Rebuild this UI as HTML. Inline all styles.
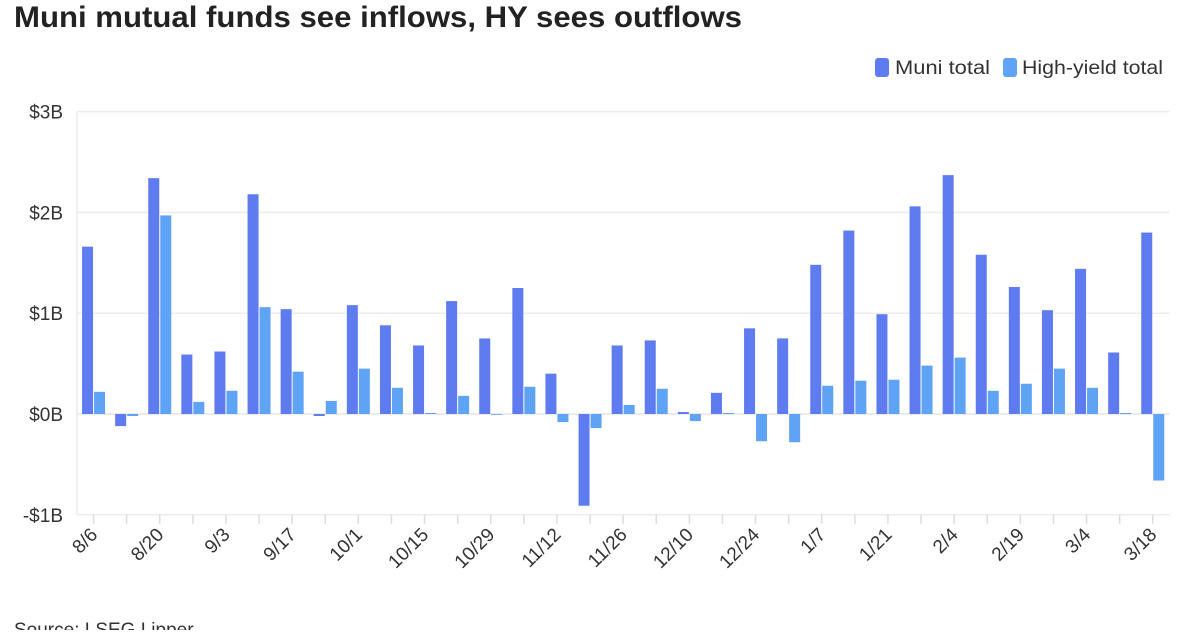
<!DOCTYPE html>
<html><head><meta charset="utf-8"><style>
body{margin:0;background:#fff;width:1200px;height:630px;overflow:hidden;font-family:"Liberation Sans",sans-serif}
</style></head><body>
<svg width="1200" height="630" xmlns="http://www.w3.org/2000/svg">
<text x="14" y="27" font-size="30" font-weight="bold" fill="#222" textLength="728" lengthAdjust="spacingAndGlyphs">Muni mutual funds see inflows, HY sees outflows</text>
<g>
<rect x="875" y="58" width="14" height="19" rx="3" fill="#5e7cef"/>
<text x="895" y="74" font-size="19" fill="#333" textLength="95" lengthAdjust="spacingAndGlyphs">Muni total</text>
<rect x="1003" y="58" width="14" height="19" rx="3" fill="#5fa4f4"/>
<text x="1022" y="74" font-size="19" fill="#333" textLength="141" lengthAdjust="spacingAndGlyphs">High-yield total</text>
</g>
<g id="plot"></g>
<text x="14" y="636" font-size="19" fill="#333">Source: LSEG Lipper</text>
</svg>
<script>
const categories=["8/6","8/13","8/20","8/27","9/3","9/10","9/17","9/24","10/1","10/8","10/15","10/22","10/29","11/5","11/12","11/19","11/26","12/3","12/10","12/17","12/24","12/31","1/7","1/14","1/21","1/28","2/4","2/11","2/19","2/26","3/4","3/11","3/18"];
const muni=[1.66,-0.12,2.34,0.59,0.62,2.18,1.04,-0.02,1.08,0.88,0.68,1.12,0.75,1.25,0.40,-0.91,0.68,0.73,0.02,0.21,0.85,0.75,1.48,1.82,0.99,2.06,2.37,1.58,1.26,1.03,1.44,0.61,1.80];
const hy=[0.22,-0.02,1.97,0.12,0.23,1.06,0.42,0.13,0.45,0.26,0.01,0.18,0.00,0.27,-0.08,-0.14,0.09,0.25,-0.07,0.01,-0.27,-0.28,0.28,0.33,0.34,0.48,0.56,0.23,0.30,0.45,0.26,0.01,-0.66];
const yTicks=[-1,0,1,2,3];
const yTickLabels=["-$1B","$0B","$1B","$2B","$3B"];
const NS="http://www.w3.org/2000/svg";
const g=document.getElementById('plot');
const x0=77,step=33.1,x1=x0+step*categories.length;
const y=v=>414-v*100.8;
const cx=i=>x0+step*(i+0.5);
function el(t,a){const e=document.createElementNS(NS,t);for(const k in a)e.setAttribute(k,a[k]);g.appendChild(e);return e;}
yTicks.forEach((t,i)=>{
  const l=el('line',{x1:x0,x2:x1,y1:y(t),y2:y(t),stroke:t===0?'#e6e6e6':'#ececec','stroke-width':1.5});
  
  
  const tx=el('text',{x:63,y:y(t)+7,'text-anchor':'end','font-size':19,fill:'#333'});
  tx.textContent=yTickLabels[i];
  
  
});
const vl=el('line',{x1:x0,x2:x0,y1:y(3),y2:y(-1),stroke:'#ececec','stroke-width':1.5});


categories.forEach((c,i)=>{
  const c0=cx(i);
  const m=muni[i],h=hy[i];
  const r1=el('rect',{x:c0-11.5,y:Math.min(y(m),y(0)),width:11,height:Math.max(Math.abs(y(m)-y(0)),0.8),fill:'#5e7cef'});
  
  
  const r2=el('rect',{x:c0+0.5,y:Math.min(y(h),y(0)),width:11,height:Math.max(Math.abs(y(h)-y(0)),0.8),fill:'#5fa4f4'});
  
  
  const tk=el('line',{x1:c0,x2:c0,y1:y(-1),y2:y(-1)+9,stroke:'#ddd','stroke-width':1.5});
  
  
  if(i%2===0){
    const t=el('text',{x:c0+5,y:y(-1)+21,'text-anchor':'end','font-size':19,fill:'#333',transform:`rotate(-45 ${c0+5} ${y(-1)+21})`});
    t.textContent=c;
    
    
  }
});
</script>
</body></html>
